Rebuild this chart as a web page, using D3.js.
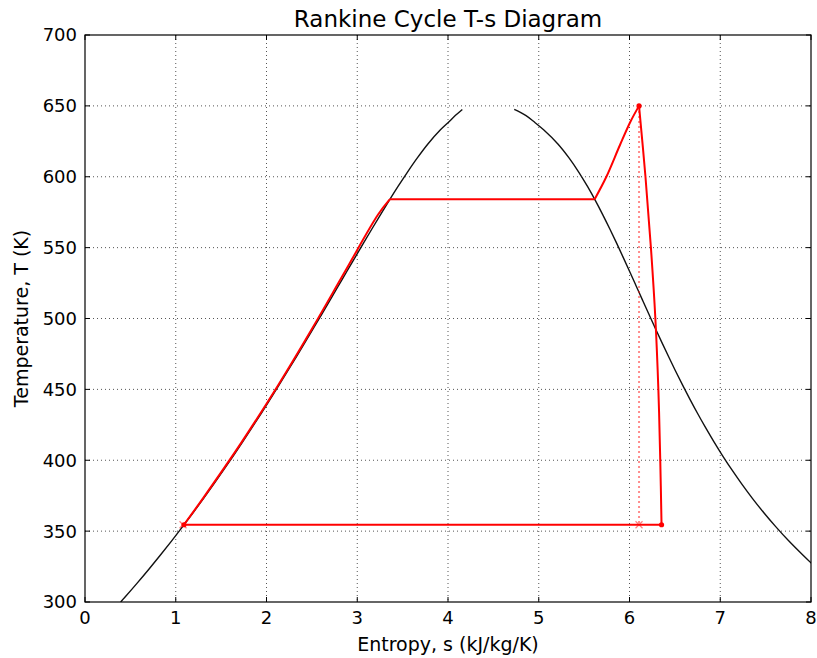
<!DOCTYPE html>
<html><head><meta charset="utf-8">
<script src="https://cdn.jsdelivr.net/npm/d3@7"></script>
<style>
html,body{margin:0;padding:0;background:#fff;}
text{font-family:"DejaVu Sans",sans-serif;fill:#000;}
</style></head>
<body><svg id="c" width="817" height="658"></svg>
<script>
// Saturation dome (water)
const satT = [300, 303.15, 313.15, 323.15, 333.15, 343.15, 353.15, 363.15, 373.15, 383.15, 393.15, 403.15, 413.15, 423.15, 433.15, 443.15, 453.15, 463.15, 473.15, 483.15, 493.15, 503.15, 513.15, 523.15, 533.15, 543.15, 553.15, 563.15, 573.15, 583.15, 593.15, 603.15, 613.15, 623.15, 633.15, 638.15, 643.15, 647.5];
const sLiq = [0.393, 0.4368, 0.5724, 0.7038, 0.8313, 0.9551, 1.0756, 1.1929, 1.3072, 1.4188, 1.5279, 1.6346, 1.7392, 1.8418, 1.9426, 2.0417, 2.1392, 2.2355, 2.3305, 2.4245, 2.5177, 2.6101, 2.7020, 2.7935, 2.8849, 2.9765, 3.0685, 3.1612, 3.2552, 3.3510, 3.4494, 3.5518, 3.6601, 3.7784, 3.9167, 4.0, 4.08, 4.158];
const sVap = [8.5174, 8.4533, 8.2557, 8.0753, 7.9099, 7.7540, 7.6111, 7.4781, 7.3541, 7.2381, 7.1291, 7.0264, 6.9293, 6.8371, 6.7491, 6.6650, 6.5840, 6.5059, 6.4302, 6.3563, 6.2840, 6.2128, 6.1423, 6.0721, 6.0016, 5.9304, 5.8579, 5.7834, 5.7059, 5.6244, 5.5372, 5.4422, 5.3356, 5.2110, 5.0536, 4.96, 4.86, 4.73];

// Cycle segments
const heatT = [354.5, 373.15, 413.15, 453.15, 493.15, 533.15, 573.15, 584.15];
const heatS = [1.09, 1.30, 1.73, 2.13, 2.505, 2.865, 3.228, 3.36];
const boilT = [584.15, 584.15];
const boilS = [3.36, 5.616];
const superT = [584.15, 600, 622.4, 638.8, 650];
const superS = [5.616, 5.745, 5.895, 6.01, 6.105];
const turbT = [650, 600, 550, 500, 450, 400, 354.5];
const turbS = [6.105, 6.176, 6.236, 6.285, 6.318, 6.339, 6.353];
const condT = [354.5, 354.5];
const condS = [6.353, 1.09];
const isenT = [650, 354.5];
const isenS = [6.105, 6.105];
const dotT = [650, 354.5, 354.5];
const dotS = [6.105, 6.353, 1.09];
const crossT = [354.5, 354.5];
const crossS = [6.105, 1.08];

const xTicks = [0,1,2,3,4,5,6,7,8];
const yTicks = [300,350,400,450,500,550,600,650,700];

const L=85, T0=35, W=726, H=567;
const svg = d3.select("#c");
const x = d3.scaleLinear().domain([0,8]).range([L, L+W]);
const y = d3.scaleLinear().domain([300,700]).range([T0+H, T0]);

svg.append("defs").append("clipPath").attr("id","clip")
  .append("rect").attr("x",L).attr("y",T0).attr("width",W).attr("height",H);

// grid
const g = svg.append("g");
g.selectAll(".gx").data(xTicks.slice(1,-1)).enter().append("line")
  .attr("x1",d=>x(d)).attr("x2",d=>x(d)).attr("y1",T0).attr("y2",T0+H)
  .attr("stroke","#555").attr("stroke-width",1).attr("stroke-dasharray","1,3");
g.selectAll(".gy").data(yTicks.slice(1,-1)).enter().append("line")
  .attr("y1",d=>y(d)).attr("y2",d=>y(d)).attr("x1",L).attr("x2",L+W)
  .attr("stroke","#555").attr("stroke-width",1).attr("stroke-dasharray","1,3");

const plot = svg.append("g").attr("clip-path","url(#clip)");
const zip = (S,Tt)=>S.map((s,i)=>[s,Tt[i]]);
const lin = d3.line().x(d=>x(d[0])).y(d=>y(d[1]));
const smooth = d3.line().x(d=>x(d[0])).y(d=>y(d[1])).curve(d3.curveCatmullRom.alpha(0.5));

plot.append("path").attr("d",smooth(zip(sLiq,satT))).attr("fill","none").attr("stroke","#111").attr("stroke-width",1.4);
plot.append("path").attr("d",smooth(zip(sVap,satT))).attr("fill","none").attr("stroke","#111").attr("stroke-width",1.4);

// isentropic dotted
plot.append("path").attr("d",lin(zip(isenS,isenT))).attr("fill","none")
  .attr("stroke","rgba(255,0,0,0.45)").attr("stroke-width",2).attr("stroke-dasharray","2,3");

const red = (d)=>plot.append("path").attr("d",d).attr("fill","none").attr("stroke","#ff0000")
  .attr("stroke-width",2).attr("stroke-linejoin","round");
red(smooth(zip(heatS,heatT)));
red(lin(zip(boilS,boilT)));
red(smooth(zip(superS,superT)));
red(smooth(zip(turbS,turbT)));
red(lin(zip(condS,condT)));

// markers
zip(crossS,crossT).forEach(p=>{
  const cx=x(p[0]), cy=y(p[1]), r=3.5;
  plot.append("path").attr("d",`M${cx-r},${cy-r}L${cx+r},${cy+r}M${cx-r},${cy+r}L${cx+r},${cy-r}`)
    .attr("stroke","rgba(255,0,0,0.5)").attr("stroke-width",1.2);
});
plot.selectAll(".dot").data(zip(dotS,dotT)).enter().append("circle")
  .attr("cx",d=>x(d[0])).attr("cy",d=>y(d[1])).attr("r",2.6).attr("fill","#ff0000");

// frame
svg.append("rect").attr("x",L).attr("y",T0).attr("width",W).attr("height",H)
  .attr("fill","none").attr("stroke","#000").attr("stroke-width",1.2);

// axes with inward ticks on all sides
const fs = 18;
const ax = svg.append("g");
xTicks.forEach(t=>{
  ax.append("line").attr("x1",x(t)).attr("x2",x(t)).attr("y1",T0+H).attr("y2",T0+H-5).attr("stroke","#000");
  ax.append("line").attr("x1",x(t)).attr("x2",x(t)).attr("y1",T0).attr("y2",T0+5).attr("stroke","#000");
  ax.append("text").attr("x",x(t)).attr("y",T0+H+22).attr("text-anchor","middle").attr("font-size",fs).text(t);
});
yTicks.forEach(t=>{
  ax.append("line").attr("y1",y(t)).attr("y2",y(t)).attr("x1",L).attr("x2",L+5).attr("stroke","#000");
  ax.append("line").attr("y1",y(t)).attr("y2",y(t)).attr("x1",L+W).attr("x2",L+W-5).attr("stroke","#000");
  ax.append("text").attr("x",L-8).attr("y",y(t)).attr("dy","0.36em").attr("text-anchor","end").attr("font-size",fs).text(t);
});

svg.append("text").attr("x",L+W/2).attr("y",27).attr("text-anchor","middle").attr("font-size",23)
  .text("Rankine Cycle T-s Diagram");
svg.append("text").attr("x",L+W/2).attr("y",651).attr("text-anchor","middle").attr("font-size",19)
  .text("Entropy, s (kJ/kg/K)");
svg.append("text").attr("transform",`translate(28,${T0+H/2}) rotate(-90)`).attr("text-anchor","middle").attr("font-size",19)
  .text("Temperature, T (K)");
</script></body></html>
